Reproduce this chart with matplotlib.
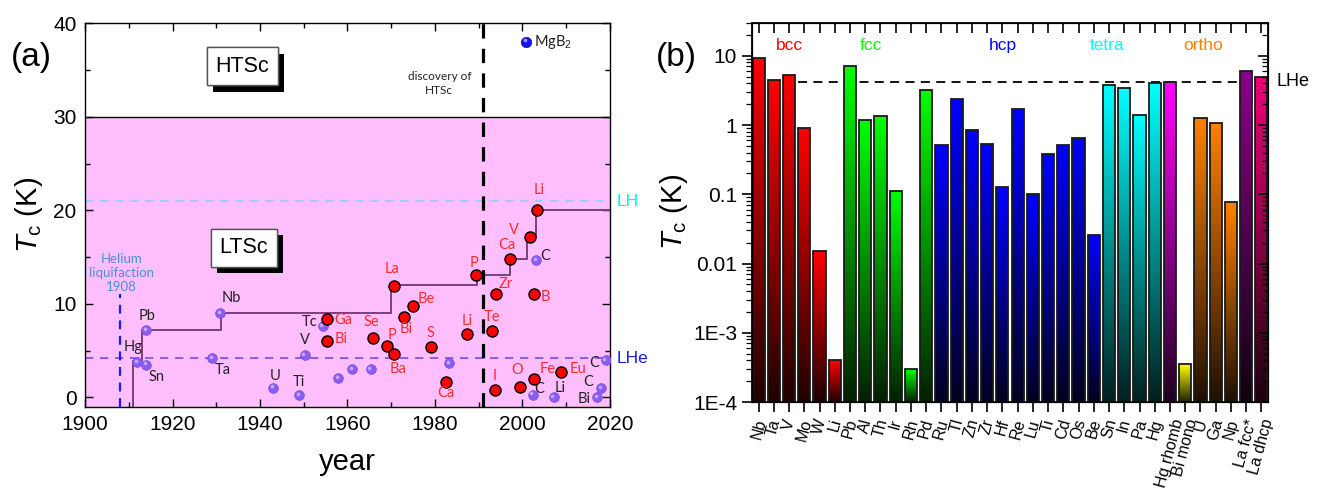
import matplotlib

matplotlib.use("Agg")
import matplotlib.pyplot as plt
import numpy as np
from matplotlib import patheffects as pe
from matplotlib.colors import to_rgb
from matplotlib.transforms import ScaledTranslation, blended_transform_factory

plt.rcParams["font.family"] = ["Liberation Sans", "DejaVu Sans"]
plt.rcParams["mathtext.fontset"] = "custom"
plt.rcParams["mathtext.it"] = "Liberation Sans:italic"
plt.rcParams["mathtext.rm"] = "Liberation Sans"

# ---------------- panel (a) data ----------------
# elements superconducting at ambient pressure (purple spheres)
amb_names = ["Hg", "Sn", "Pb", "Nb", "Ta", "U", "Ti", "V", "Tc", "", "", "", "",
             "C", "C", "Li", "C", "C", "Bi"]
amb_year = [1911.9, 1914.0, 1913.9, 1930.8, 1929.1, 1943.0, 1948.9, 1950.2, 1954.3,
            1957.9, 1961.1, 1965.3, 1983.2, 2003.2, 2002.3, 2007.1, 2019.0, 2018.0, 2017.0]
amb_tc = [3.8, 3.5, 7.2, 9.0, 4.2, 1.05, 0.2, 4.5, 7.6,
          2.1, 3.05, 3.05, 3.7, 14.7, 0.3, 0.0, 4.0, 1.0, 0.0]

# elements superconducting under pressure (red dots)
hp_names = ["Ga", "Bi", "Se", "La", "Be", "Bi", "P", "Ba", "S", "Ca", "Li", "P",
            "Zr", "Te", "I", "O", "B", "Fe", "Eu", "Ca", "V", "Li"]
hp_year = [1955.3, 1955.3, 1965.9, 1970.6, 1975.0, 1972.9, 1969.1, 1970.7, 1979.0,
           1982.5, 1987.4, 1989.3, 1994.0, 1993.1, 1993.7, 1999.4, 2002.6, 2002.7,
           2008.9, 1997.1, 2001.8, 2003.4]
hp_tc = [8.4, 6.0, 6.3, 11.9, 9.8, 8.6, 5.5, 4.65, 5.4, 1.65, 6.8, 13.1,
         11.0, 7.1, 0.83, 1.15, 11.1, 2.0, 2.7, 14.8, 17.1, 20.0]

mgb2_year, mgb2_tc = 2000.9, 38.05

# record Tc staircase
rec_year = [1911, 1911, 1913, 1931.2, 1970.05, 1989.5, 1997.1, 2001.1, 2003.1, 2020]
rec_tc = [-1, 3.9, 7.2, 9.0, 12.0, 13.1, 14.8, 17.2, 20.0, 20.0]

T_LHE = 4.2
T_LH = 21.0
YEAR_HE = 1908
YEAR_HTSC = 1991

# label offsets in pixels (dx, dy)
amb_off = [(-4, 15), (10, -12), (1, 14), (12, 15), (11, -12), (2, 12), (0, 13),
           (0, 15), (-13, 4), (0, 0), (0, 0), (0, 0), (0, 0),
           (9, 4), (7, 6), (7, 9), (-11, -3), (-13, 6), (-13, -2)]
hp_off = [(16, -1), (14, 2), (-2, 16), (-2, 17), (13, 7), (2, -12), (5, 11),
          (4, -15), (0, 14), (0, -11), (0, 13), (-2, 12), (9, 10), (0, 14),
          (0, 14), (-3, 17), (12, -3), (13, 10), (17, 3), (-3, 14), (-16, 7), (2, 20)]

# ---------------- panel (b) data ----------------
bar_names = ["Nb", "Ta", "V", "Mo", "W", "Li",
             "Pb", "Al", "Th", "Ir", "Rh", "Pd",
             "Ru", "Tl", "Zn", "Zr", "Hf", "Re", "Lu", "Ti", "Cd", "Os", "Be",
             "Sn", "In", "Pa", "Hg",
             "Hg rhomb", "Bi mono",
             "U", "Ga", "Np",
             "La fcc*", "La dhcp"]
bar_tc = [9.3, 4.46, 5.3, 0.92, 0.0154, 4.0e-4,
          7.1, 1.2, 1.35, 0.113, 3.0e-4, 3.2,
          0.51, 2.35, 0.85, 0.54, 0.129, 1.69, 0.1, 0.38, 0.51, 0.66, 0.026,
          3.74, 3.45, 1.39, 4.0,
          4.2, 3.5e-4,
          1.28, 1.08, 0.077,
          5.96, 4.88]
bar_group = ["bcc"] * 6 + ["fcc"] * 6 + ["hcp"] * 11 + ["tetra"] * 4 + \
            ["rhomb", "mono"] + ["ortho"] * 3 + ["lafcc", "ladhcp"]
group_color = {"bcc": "#ff0000", "fcc": "#00ff00", "hcp": "#0000ff",
               "tetra": "#00ffff", "rhomb": "#ff00ff", "mono": "#ffff00",
               "ortho": "#ff8000", "lafcc": "#880088", "ladhcp": "#f00078"}
group_labels = ["bcc", "fcc", "hcp", "tetra", "ortho"]
group_label_x = [2.0, 7.4, 16.0, 22.9, 29.2]

C_RED = "#ff0000"
C_RED_TXT = "#ff2a2a"
C_PURPLE = "#8c5cf2"
C_LABEL = "#222222"

fig = plt.figure(figsize=(13.2, 4.97), dpi=100)
ax = fig.add_axes([0.0644, 0.1817, 0.3977, 0.7713])
bx = fig.add_axes([0.5695, 0.1911, 0.3913, 0.7632])

# ================= panel (a) =================
ax.set_xlim(1900, 2020)
ax.set_ylim(-1, 40)
ax.axhspan(-1, 30, color="#ffbfff", zorder=0, lw=0)
ax.axhline(30, color="k", lw=1.0, zorder=1)
ax.axhline(T_LH, color="#8ecfff", ls=(0, (5, 4)), lw=1.2, zorder=1)
ax.axhline(T_LHE, color="#6f4fe6", ls=(0, (5, 4)), lw=1.2, zorder=1)
ax.plot([YEAR_HE, YEAR_HE], [-1, 11], color="#1a1aff", ls=(0, (4, 3)), lw=1.6, zorder=1)
ax.plot(rec_year, rec_tc, drawstyle="steps-post", color="#7b3f7b", lw=1.4, zorder=2)
ax.axvline(YEAR_HTSC, color="k", ls=(0, (4.5, 3.2)), lw=2.3, zorder=3)

# purple spheres with a small highlight
hl = ax.transData + ScaledTranslation(-1.2 / 100, 1.2 / 100, fig.dpi_scale_trans)
ax.plot(amb_year, amb_tc, "o", ms=7, color=C_PURPLE, mec="#7a4ee0", mew=0.5, zorder=4)
ax.plot(amb_year, amb_tc, "o", ms=2.6, color="#c9b3ff", mew=0, alpha=0.9,
        transform=hl, zorder=5)
ax.plot(hp_year, hp_tc, "o", ms=8, color=C_RED, mec="k", mew=1.0, zorder=4)
ax.plot([mgb2_year], [mgb2_tc], "o", ms=7.5, color="#1414e6", mec="#0a0aa0", mew=0.5, zorder=4)
ax.plot([mgb2_year], [mgb2_tc], "o", ms=2.6, color="#9a9aff", mew=0, transform=hl, zorder=5)

lab_font = ["Lato", "DejaVu Sans"]
for name, x, y, (dx, dy) in zip(amb_names, amb_year, amb_tc, amb_off):
    if name:
        ax.annotate(name, (x, y), xytext=(dx, dy), textcoords="offset pixels",
                    ha="center", va="center", fontsize=10.5, color=C_LABEL,
                    family=lab_font, zorder=6)
for name, x, y, (dx, dy) in zip(hp_names, hp_year, hp_tc, hp_off):
    ax.annotate(name, (x, y), xytext=(dx, dy), textcoords="offset pixels",
                ha="center", va="center", fontsize=10.5, color=C_RED_TXT,
                family=lab_font, zorder=6)
ax.annotate(r"MgB$_2$", (mgb2_year, mgb2_tc), xytext=(8, 0), textcoords="offset pixels",
            ha="left", va="center", fontsize=10.5, color=C_LABEL, family=lab_font)

for txt, (x, y) in [("HTSc", (1936.0, 35.4)), ("LTSc", (1936.3, 16.0))]:
    t = ax.text(x, y, txt, ha="center", va="center", fontsize=15.5, zorder=7,
                bbox=dict(boxstyle="square,pad=0.4", fc="white", ec="#555555", lw=1.0))
    t.get_bbox_patch().set_path_effects(
        [pe.withSimplePatchShadow(offset=(4.5, -4.5), shadow_rgbFace="k", alpha=1.0),
         pe.Normal()])

ax.text(1981.0, 33.6, "discovery of\nHTSc", ha="center", va="center", fontsize=8.5,
        family=lab_font, color=C_LABEL, linespacing=1.3)
ax.text(1908.3, 13.3, "Helium\nliquifaction\n1908", ha="center", va="center",
        fontsize=9.5, family=lab_font, color="#4a8fd8", linespacing=1.2)

trans_a = blended_transform_factory(ax.transAxes, ax.transData)
ax.text(1.012, T_LH, "LH", transform=trans_a, ha="left", va="center",
        fontsize=12.5, color="#00f0ff")
ax.text(1.012, T_LHE, "LHe", transform=trans_a, ha="left", va="center",
        fontsize=12.5, color="#1a1aff")

ax.set_xticks(np.arange(1900, 2021, 20))
ax.set_xticks(np.arange(1910, 2020, 20), minor=True)
ax.set_yticks(np.arange(0, 41, 10))
ax.set_yticks(np.arange(5, 40, 10), minor=True)
ax.tick_params(which="both", direction="in", top=True, right=True, width=1.0)
ax.tick_params(which="major", length=6, labelsize=15, pad=6)
ax.tick_params(which="minor", length=3.5)
ax.set_xlabel("year", fontsize=21, labelpad=10)
ax.set_ylabel(r"$T_\mathrm{c}$ (K)", fontsize=21, labelpad=6)
for s in ax.spines.values():
    s.set_linewidth(1.0)

# ================= panel (b) =================
bx.set_yscale("log")
bx.set_ylim(1e-4, 30)
bx.set_xlim(-0.45, len(bar_names) - 0.55)
bx.axhline(T_LHE, color="k", ls=(0, (5, 3.5)), lw=1.3, zorder=1)

NSEG = 80
xpos = np.arange(len(bar_names))
for i, (v, g) in enumerate(zip(bar_tc, bar_group)):
    base = np.array(to_rgb(group_color[g]))
    edges = np.logspace(-4, np.log10(v), NSEG + 1)
    frac = (np.arange(NSEG) + 0.5) / NSEG
    cols = [tuple(base * (0.12 + 0.88 * f)) for f in frac]
    bx.bar(np.full(NSEG, i), np.diff(edges), bottom=edges[:-1], width=0.8,
           color=cols, linewidth=0, antialiased=False, zorder=2)
bx.bar(xpos, bar_tc, width=0.8, fill=False, edgecolor="#1a1a1a", lw=1.3, zorder=3)

group_trans = blended_transform_factory(bx.transData, bx.transAxes)
for lab, gx in zip(group_labels, group_label_x):
    bx.text(gx, 0.941, lab, transform=group_trans, ha="center", va="center",
            fontsize=12.5, color=group_color[lab])

bx.text(1.016, T_LHE, "LHe", transform=blended_transform_factory(bx.transAxes, bx.transData),
        ha="left", va="center", fontsize=13)

bx.set_xticks(xpos)
bx.set_xticklabels(bar_names, rotation=75, ha="center", va="top", fontsize=11.5)
bx.tick_params(axis="x", direction="out", length=7, width=1.2, pad=4)
yt = [1e-4, 1e-3, 1e-2, 1e-1, 1, 10]
bx.set_yticks(yt)
bx.set_yticklabels(["1E-4", "1E-3", "0.01", "0.1", "1", "10"])
bx.tick_params(axis="y", which="major", direction="out", length=7, width=1.2, labelsize=15)
bx.tick_params(axis="y", which="minor", direction="out", length=4, width=0.9)
bx.set_ylabel(r"$T_\mathrm{c}$ (K)", fontsize=21, labelpad=2)
for s in bx.spines.values():
    s.set_linewidth(1.3)

# mirrored inward ticks on right and top
rx = bx.twinx()
rx.set_yscale("log")
rx.set_ylim(bx.get_ylim())
rx.set_yticks(yt)
rx.tick_params(axis="y", which="major", direction="in", length=7, width=1.2, labelright=False)
rx.tick_params(axis="y", which="minor", direction="in", length=4, width=0.9)
tx = bx.twiny()
tx.set_xlim(bx.get_xlim())
tx.set_xticks(xpos)
tx.tick_params(axis="x", direction="in", length=7, width=1.2, labeltop=False)

fig.text(0.008, 0.885, "(a)", fontsize=24, va="center", ha="left")
fig.text(0.497, 0.885, "(b)", fontsize=24, va="center", ha="left")

fig.savefig("out.png", dpi=100)
